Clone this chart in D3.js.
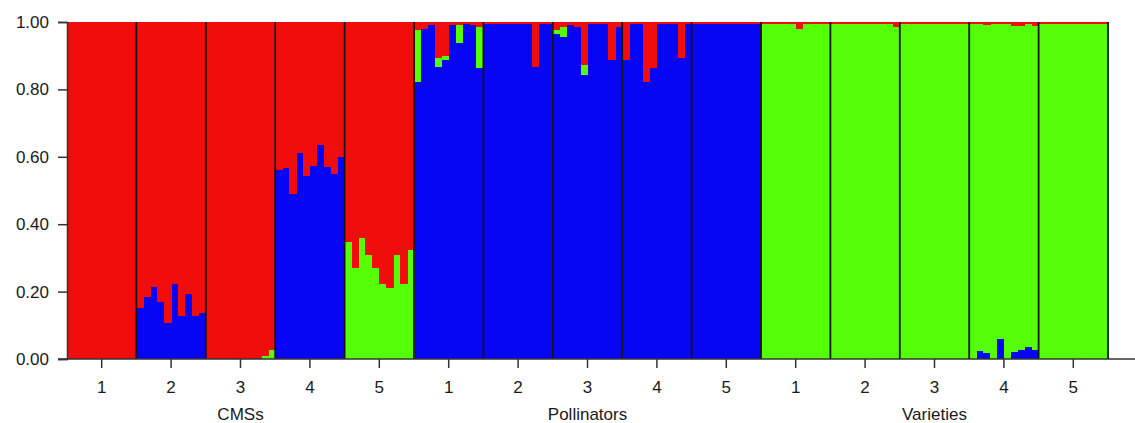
<!DOCTYPE html>
<html>
<head>
<meta charset="utf-8">
<script src="https://cdn.jsdelivr.net/npm/d3@7"></script>
<style>
  body { margin: 0; background: #fff; }
  svg text { font-family: "Liberation Sans", Arial, sans-serif; fill: #1a1a1a; }
</style>
</head>
<body>
<svg id="chart"></svg>
<script>
// sets of populations and the population labels under each bar group
var sets = ['CMSs', 'Pollinators', 'Varieties'];
var popLabels = ['1', '2', '3', '4', '5'];
var yTicks = [0, 0.2, 0.4, 0.6, 0.8, 1.0];

// membership (Q) per individual, 15 populations x 10 individuals, K = 3
var blueQ = [
  [0, 0, 0, 0, 0, 0, 0, 0, 0, 0],
  [.150, .183, .215, .170, .106, .222, .128, .193, .128, .136],
  [0, 0, 0, 0, 0, 0, 0, 0, 0, 0],
  [.561, .566, .490, .610, .544, .574, .635, .571, .549, .600],
  [0, 0, 0, 0, 0, 0, 0, 0, 0, 0],
  [.823, .980, .990, .867, .888, .990, .937, .995, .990, .863],
  [.995, .995, .995, .995, .995, .995, .995, .867, .995, .995],
  [.965, .955, .990, .985, .842, .995, .995, .995, .887, .985],
  [.887, .995, .995, .823, .863, .995, .995, .995, .892, .995],
  [.995, .995, .995, .995, .995, .995, .995, .995, .995, .995],
  [0, 0, 0, 0, 0, 0, 0, 0, 0, 0],
  [0, 0, 0, 0, 0, 0, 0, 0, 0, 0],
  [0, 0, 0, 0, 0, 0, 0, 0, 0, 0],
  [0, .025, .017, 0, .058, 0, .020, .027, .035, .028],
  [0, 0, 0, 0, 0, 0, 0, 0, 0, 0]
];
var greenQ = [
  [0, 0, 0, 0, 0, 0, 0, 0, 0, 0],
  [0, 0, 0, 0, 0, 0, 0, 0, 0, 0],
  [0, 0, 0, 0, 0, 0, 0, 0, .010, .027],
  [0, 0, 0, 0, 0, 0, 0, 0, 0, 0],
  [.348, .269, .358, .309, .269, .222, .210, .309, .222, .323],
  [.153, 0, 0, .025, .012, 0, .054, 0, 0, .123],
  [0, 0, 0, 0, 0, 0, 0, 0, 0, 0],
  [.010, .030, 0, 0, .030, 0, 0, 0, 0, 0],
  [0, 0, 0, 0, 0, 0, 0, 0, 0, 0],
  [0, 0, 0, 0, 0, 0, 0, 0, 0, 0],
  [.995, .995, .995, .995, .995, .978, .995, .995, .995, .995],
  [.995, .995, .995, .995, .995, .995, .995, .995, .995, .985],
  [.995, .995, .995, .995, .995, .995, .995, .995, .995, .995],
  [.995, .970, .973, .995, .937, .995, .968, .961, .960, .960],
  [.995, .995, .995, .995, .995, .995, .995, .995, .995, .995]
];
var redQ = [
  [1, 1, 1, 1, 1, 1, 1, 1, 1, 1],
  [.850, .817, .785, .830, .894, .778, .872, .807, .872, .864],
  [1, 1, 1, 1, 1, 1, 1, 1, .990, .973],
  [.439, .434, .510, .390, .456, .426, .365, .429, .451, .400],
  [.652, .731, .642, .691, .731, .778, .790, .691, .778, .677],
  [.024, .020, .010, .108, .100, .010, .009, .005, .010, .014],
  [.005, .005, .005, .005, .005, .005, .005, .133, .005, .005],
  [.025, .015, .010, .015, .128, .005, .005, .005, .113, .015],
  [.113, .005, .005, .177, .137, .005, .005, .005, .108, .005],
  [.005, .005, .005, .005, .005, .005, .005, .005, .005, .005],
  [.005, .005, .005, .005, .005, .022, .005, .005, .005, .005],
  [.005, .005, .005, .005, .005, .005, .005, .005, .005, .015],
  [.005, .005, .005, .005, .005, .005, .005, .005, .005, .005],
  [.005, .005, .010, .005, .005, .005, .012, .012, .005, .012],
  [.005, .005, .005, .005, .005, .005, .005, .005, .005, .005]
];

var svgWidth = 1135, svgHeight = 423;
var margin = { top: 22, right: 27, bottom: 64, left: 67 };
var width = svgWidth - margin.left - margin.right;
var height = svgHeight - margin.top - margin.bottom;

var colors = { blue: '#0606f4', green: '#55ff08', red: '#f20d0d' };
var keys = ['blue', 'green', 'red'];

// flatten into one row per individual
var rows = [];
blueQ.forEach(function(pop, p) {
  pop.forEach(function(v, i) {
    rows.push({ id: p * 10 + i, pop: p, blue: v, green: greenQ[p][i], red: redQ[p][i] });
  });
});
var nPop = blueQ.length;

var svg = d3.select('#chart')
  .attr('width', svgWidth)
  .attr('height', svgHeight);

var g = svg.append('g')
  .attr('transform', 'translate(' + margin.left + ',' + margin.top + ')');

var x = d3.scaleBand().domain(rows.map(function(d) { return d.id; })).range([0, width]).padding(0);
var xg = d3.scaleBand().domain(d3.range(nPop)).range([0, width]).padding(0);
var y = d3.scaleLinear().domain([0, 1]).range([height, 0]);

var stacked = d3.stack().keys(keys)(rows);

g.selectAll('g.layer')
  .data(stacked)
  .enter().append('g')
  .attr('class', 'layer')
  .attr('fill', function(d) { return colors[d.key]; })
  .attr('shape-rendering', 'crispEdges')
  .selectAll('rect')
  .data(function(d) { return d; })
  .enter().append('rect')
  .attr('x', function(d) { return x(d.data.id); })
  .attr('width', x.bandwidth() + 0.5)
  .attr('y', function(d) { return y(Math.min(1, d[1])); })
  .attr('height', function(d) { return Math.max(0, y(d[0]) - y(Math.min(1, d[1]))); });

// population dividers
g.selectAll('line.div')
  .data(d3.range(1, nPop + 1))
  .enter().append('line')
  .attr('class', 'div')
  .attr('x1', function(d) { return d < nPop ? xg(d) : width; })
  .attr('x2', function(d) { return d < nPop ? xg(d) : width; })
  .attr('y1', 0)
  .attr('y2', height)
  .attr('stroke', '#141414')
  .attr('stroke-width', 1.8);

// y axis
var yAxis = g.append('g')
  .call(d3.axisLeft(y).tickValues(yTicks).tickFormat(d3.format('.2f')).tickSize(9).tickPadding(9));
yAxis.select('.domain').attr('stroke', '#333').attr('stroke-width', 1.5);
yAxis.selectAll('.tick line').attr('stroke', '#333').attr('stroke-width', 1.5);
yAxis.selectAll('text').style('font-size', '17px');

// x axis: baseline runs to the edge of the page
g.append('line')
  .attr('x1', -9).attr('x2', svgWidth - margin.left)
  .attr('y1', height).attr('y2', height)
  .attr('stroke', '#333').attr('stroke-width', 1.5);

var xTicks = g.append('g').attr('transform', 'translate(0,' + height + ')');
var tk = xTicks.selectAll('g.tick')
  .data(d3.range(nPop))
  .enter().append('g')
  .attr('class', 'tick')
  .attr('transform', function(d) { return 'translate(' + (xg(d) + xg.bandwidth() / 2) + ',0)'; });
tk.append('line').attr('y2', 9).attr('stroke', '#333').attr('stroke-width', 1.5);
tk.append('text')
  .attr('y', 34)
  .attr('text-anchor', 'middle')
  .style('font-size', '17px')
  .text(function(d) { return popLabels[d % popLabels.length]; });

// set labels, centred under population 3 of each set
g.selectAll('text.set')
  .data(sets)
  .enter().append('text')
  .attr('class', 'set')
  .attr('x', function(d, i) { return xg(i * 5 + 2) + xg.bandwidth() / 2; })
  .attr('y', height + 61)
  .attr('text-anchor', 'middle')
  .style('font-size', '17px')
  .text(function(d) { return d; });
</script>
</body>
</html>
